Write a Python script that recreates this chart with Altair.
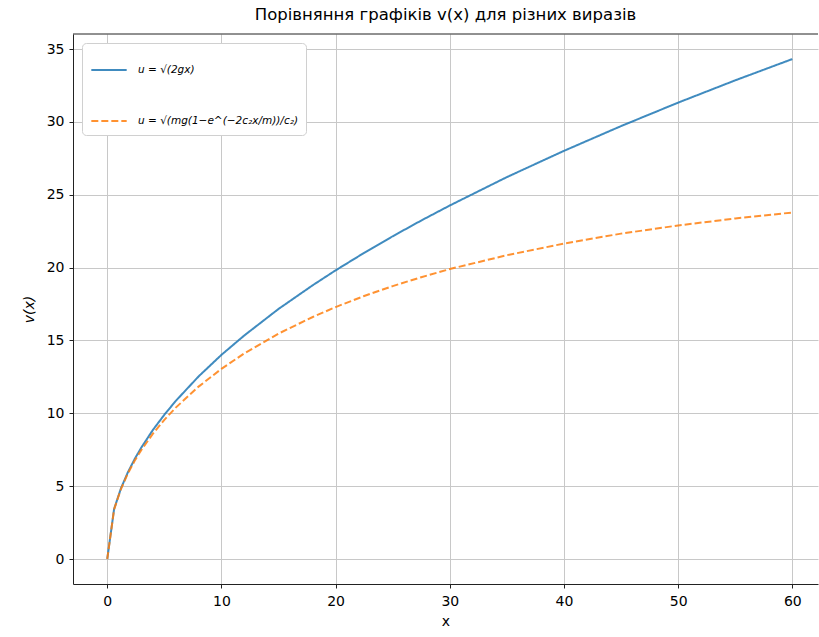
import altair as alt
import pandas as pd

x_vals = [0, 0.6, 1.2, 1.8, 2.4, 3, 4, 5, 6, 8, 10, 12, 15, 18, 20, 22.5, 25, 27.5, 30, 35, 40, 45, 50, 55, 60]
v_free = [0, 3.43, 4.85, 5.94, 6.86, 7.67, 8.86, 9.90, 10.85, 12.53, 14.01, 15.34, 17.16, 18.79, 19.81,
          21.01, 22.15, 23.23, 24.26, 26.21, 28.01, 29.71, 31.32, 32.85, 34.31]
v_drag = [0, 3.41, 4.80, 5.86, 6.74, 7.50, 8.60, 9.55, 10.39, 11.83, 13.05, 14.11, 15.47, 16.61, 17.29,
          18.05, 18.73, 19.34, 19.90, 20.85, 21.65, 22.33, 22.89, 23.37, 23.78]
labels = ["u = √(2gx)", "u = √(mg(1−e^(−2c₂x/m))/c₂)"]
x_ticks = [0, 10, 20, 30, 40, 50, 60]
y_ticks = [0, 5, 10, 15, 20, 25, 30, 35]

df = pd.DataFrame({
    "x": x_vals + x_vals,
    "v": v_free + v_drag,
    "series": [labels[0]] * len(x_vals) + [labels[1]] * len(x_vals),
})

W, H = 745, 550
FONT = "DejaVu Sans"

def make_legend():
    return alt.Legend(title=None, orient="none", legendX=9, legendY=9,
                      symbolType="stroke", symbolStrokeWidth=2, symbolSize=1250,
                      labelFontSize=10.5, labelFont=FONT, labelFontStyle="italic",
                      labelLimit=400, rowPadding=26, padding=8,
                      fillColor="white", strokeColor="#d0d0d0", cornerRadius=4,
                      labelOffset=10)

lines = alt.Chart(df).mark_line(strokeWidth=2, opacity=0.85).encode(
    x=alt.X("x:Q", scale=alt.Scale(domain=[-3, 62.25], nice=False, zero=False),
            axis=alt.Axis(values=x_ticks, title="x", labelPadding=6, titlePadding=6)),
    y=alt.Y("v:Q", scale=alt.Scale(domain=[-1.715, 36.03], nice=False, zero=False),
            axis=alt.Axis(values=y_ticks, title="v(x)", labelPadding=5, titlePadding=10,
                          titleFontStyle="italic")),
    color=alt.Color("series:N", scale=alt.Scale(domain=labels, range=["#1f77b4", "#ff7f0e"]),
                    legend=make_legend()),
    strokeDash=alt.StrokeDash("series:N", scale=alt.Scale(domain=labels, range=[[1, 0], [7, 3]]),
                              legend=make_legend()),
)

top_border = alt.Chart(pd.DataFrame({"a": [0]})).mark_rule(color="#222222", strokeWidth=1).encode(
    y=alt.value(0), x=alt.value(0), x2=alt.value(W)
)

chart = alt.layer(lines, top_border).properties(
    width=W, height=H,
    title=alt.TitleParams("Порівняння графіків v(x) для різних виразів", font=FONT, fontSize=16.5,
                          fontWeight="normal", color="black", offset=10, anchor="middle"),
    autosize=alt.AutoSizeParams(type="none"),
    padding={"left": 73, "top": 34, "right": 1, "bottom": 53},
).configure_view(strokeWidth=0).configure_axis(
    labelFont=FONT, titleFont=FONT, labelFontSize=14, titleFontSize=14,
    labelColor="black", titleColor="black", titleFontWeight="normal",
    domainColor="#222222", tickColor="#222222", tickSize=4, domainWidth=1,
    gridColor="#c8c8c8", gridWidth=1,
)

chart.save("out.html", embed_options={"renderer": "svg", "actions": False})
